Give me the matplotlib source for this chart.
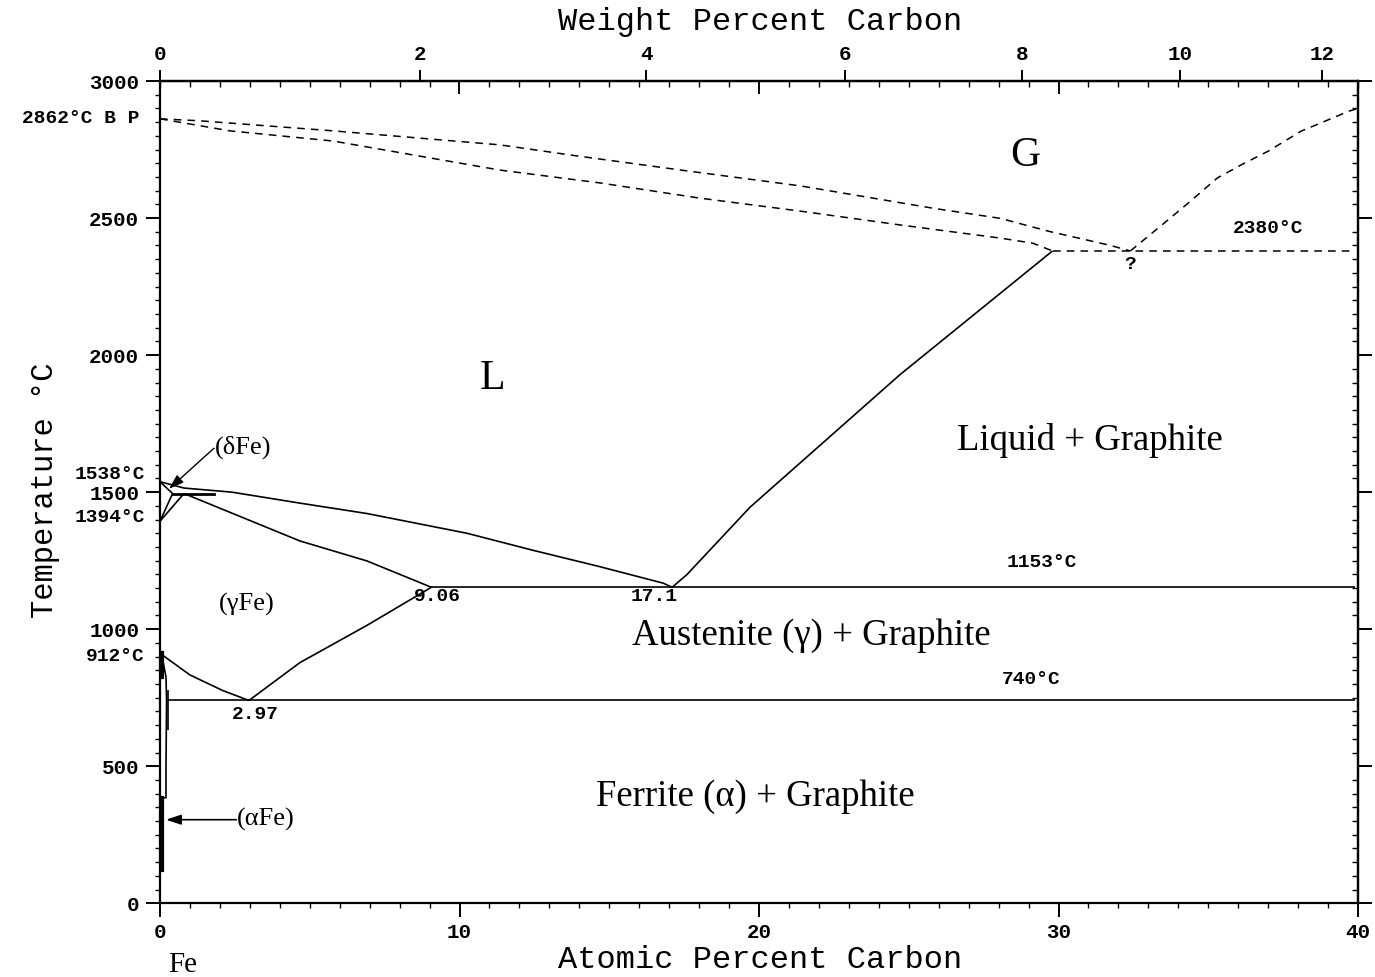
import numpy as np
import matplotlib
matplotlib.use("Agg")
import matplotlib.pyplot as plt
from matplotlib.ticker import MultipleLocator, FixedLocator, NullFormatter

# ---------------- phase boundaries (atomic % C, temperature °C) ----------------
M_C, M_FE = 12.011, 55.845

liquidus_at = [0.0, 0.8, 2.4, 4.67, 6.91, 10.25, 12.45, 14.69, 16.8, 17.1]
liquidus_T = [1538, 1515, 1500, 1460, 1422, 1350, 1288, 1228, 1168, 1153]

solidus_at = [0.8, 4.67, 6.91, 9.06]
solidus_T = [1495, 1322, 1249, 1153]

acm_at = [2.97, 4.67, 6.91, 9.06]
acm_T = [740, 878, 1014, 1153]

a3_at = [0.0, 1.0, 2.1, 2.97]
a3_T = [912, 833, 776, 740]

graphite_liq_at = [17.1, 17.6, 19.7, 24.7, 29.8]
graphite_liq_T = [1153, 1200, 1445, 1928, 2380]

# delta-iron corner
delta_liq_at, delta_liq_T = [0.0, 0.42], [1538, 1495]
delta_solvus_at, delta_solvus_T = [0.0, 0.42], [1394, 1495]
gamma_delta_at, gamma_delta_T = [0.0, 0.8], [1394, 1495]
peritectic_at, peritectic_T = [0.42, 1.8], [1495, 1495]

# alpha-iron solvus (very narrow)
alpha_at = [0.05, 0.2, 0.22, 0.2, 0.2, 0.08]
alpha_T = [912, 826, 740, 500, 385, 385]
alpha_thick_top_at, alpha_thick_top_T = [0.08, 0.08], [912, 826]
alpha_thick_low_at, alpha_thick_low_T = [0.08, 0.08], [385, 120]
alpha_bracket_at, alpha_bracket_T = [0.27, 0.27], [634, 780]

# invariant lines
eutectic_T, eutectic_at = 1153, [9.06, 39.9]
eutectoid_T, eutectoid_at = 740, [0.27, 39.9]
gas_T, gas_at = 2380, [29.8, 39.9]

# vapour-phase boundaries (dashed)
gas_upper_at = [0.0, 1.3, 5.8, 11.35, 13.9, 17.6, 21.4, 25.8, 28.05, 29.7, 31.7, 32.4]
gas_upper_T = [2862, 2855, 2818, 2767, 2727, 2672, 2617, 2536, 2499, 2451, 2401, 2380]
gas_lower_at = [0.0, 2.34, 5.78, 11.35, 14.7, 18.0, 21.4, 24.7, 28.05, 29.15, 29.8]
gas_lower_T = [2862, 2818, 2781, 2675, 2628, 2573, 2525, 2475, 2427, 2408, 2380]
gas_right_at = [32.4, 33.6, 34.4, 35.3, 36.1, 37.0, 38.1, 39.7, 40.0]
gas_right_T = [2380, 2488, 2561, 2646, 2694, 2744, 2817, 2890, 2900]

bottom_ticks = [0, 10, 20, 30, 40]
left_ticks = [0, 500, 1000, 1500, 2000, 2500, 3000]
wt_ticks = [0, 2, 4, 6, 8, 10, 12]


def at_to_wt(a):
    a = np.asarray(a, dtype=float)
    with np.errstate(divide="ignore", invalid="ignore"):
        return 100 * a * M_C / (a * M_C + (100 - a) * M_FE)


def wt_to_at(w):
    w = np.asarray(w, dtype=float)
    with np.errstate(divide="ignore", invalid="ignore"):
        return 100 * (w / M_C) / (w / M_C + (100 - w) / M_FE)


MONO = ["Liberation Mono", "DejaVu Sans Mono"]
SERIF = ["Liberation Serif", "DejaVu Serif"]

fig = plt.figure(figsize=(13.75, 9.77), dpi=100)
ax = fig.add_axes([160 / 1375, 1 - 903.3 / 977, 1198 / 1375, (903.3 - 81) / 977])
ax.set_xlim(0, 40)
ax.set_ylim(0, 3000)

for s in ax.spines.values():
    s.set_linewidth(1.6)

lw = 1.2
solid = dict(color="black", lw=lw, solid_capstyle="butt")
ax.plot(liquidus_at, liquidus_T, **solid)
ax.plot(solidus_at, solidus_T, **solid)
ax.plot(acm_at, acm_T, **solid)
ax.plot(a3_at, a3_T, **solid)
ax.plot(graphite_liq_at, graphite_liq_T, **solid)
ax.plot(delta_liq_at, delta_liq_T, **solid)
ax.plot(delta_solvus_at, delta_solvus_T, **solid)
ax.plot(gamma_delta_at, gamma_delta_T, **solid)
ax.plot(peritectic_at, peritectic_T, color="black", lw=2.0)
ax.plot(alpha_at, alpha_T, **solid)
ax.plot(alpha_thick_top_at, alpha_thick_top_T, color="black", lw=3)
ax.plot(alpha_thick_low_at, alpha_thick_low_T, color="black", lw=3)
ax.plot(alpha_bracket_at, alpha_bracket_T, **solid)
ax.plot(eutectic_at, [eutectic_T] * 2, **solid)
ax.plot(eutectoid_at, [eutectoid_T] * 2, **solid)

dash = dict(color="black", lw=1.1, linestyle=(0, (5, 4)))
ax.plot(gas_at, [gas_T] * 2, **dash)
ax.plot(gas_upper_at, gas_upper_T, **dash)
ax.plot(gas_lower_at, gas_lower_T, **dash)
ax.plot(gas_right_at, gas_right_T, **dash)

# ---------------- ticks ----------------
ax.xaxis.set_major_locator(FixedLocator(bottom_ticks))
ax.xaxis.set_minor_locator(MultipleLocator(1))
ax.yaxis.set_major_locator(FixedLocator(left_ticks))
ax.yaxis.set_minor_locator(MultipleLocator(50))
ax.tick_params(which="major", direction="out", length=10, width=1.4, labelsize=15, pad=4)
ax.tick_params(which="minor", direction="out", length=3.5, width=1.0)
ax.tick_params(axis="y", which="major", pad=5)
for lab in ax.get_xticklabels() + ax.get_yticklabels():
    lab.set_family(MONO)
    lab.set_weight("bold")

right = ax.secondary_yaxis("right")
right.yaxis.set_major_locator(FixedLocator(left_ticks))
right.yaxis.set_minor_locator(MultipleLocator(50))
right.yaxis.set_major_formatter(NullFormatter())
right.tick_params(which="major", direction="out", length=10, width=1.4)
right.tick_params(which="minor", direction="in", length=4, width=1.0)
right.spines["right"].set_linewidth(1.6)

top_at = ax.secondary_xaxis("top")
top_at.xaxis.set_major_locator(FixedLocator([10, 20, 30]))
top_at.xaxis.set_minor_locator(MultipleLocator(1))
top_at.xaxis.set_major_formatter(NullFormatter())
top_at.tick_params(which="major", direction="in", length=9, width=1.4)
top_at.tick_params(which="minor", direction="in", length=4, width=1.0)
top_at.spines["top"].set_linewidth(1.6)

top_wt = ax.secondary_xaxis("top", functions=(at_to_wt, wt_to_at))
top_wt.xaxis.set_major_locator(FixedLocator(wt_ticks))
top_wt.xaxis.set_minor_locator(FixedLocator([]))
top_wt.tick_params(which="major", direction="out", length=8, width=1.4, labelsize=15, pad=4)
for lab in top_wt.get_xticklabels():
    lab.set_family(MONO)
    lab.set_weight("bold")

# ---------------- axis titles ----------------
fig.text(760 / 1375, 1 - 22 / 977, "Weight Percent Carbon", family=MONO, fontsize=23,
         ha="center", va="center")
fig.text(760 / 1375, 1 - 960 / 977, "Atomic Percent Carbon", family=MONO, fontsize=23,
         ha="center", va="center")
fig.text(45 / 1375, 1 - 490 / 977, "Temperature °C", family=MONO, fontsize=22,
         ha="center", va="center", rotation=90)
fig.text(183 / 1375, 1 - 965 / 977, "Fe", family=SERIF, fontsize=21, ha="center", va="center")

# ---------------- point labels ----------------
small = dict(family=MONO, fontsize=14, weight="bold", clip_on=False)
ax.text(-0.67, 2862, "2862°C B P", ha="right", va="center", **small)
ax.text(-0.5, 1566, "1538°C", ha="right", va="center", **small)
ax.text(-0.5, 1408, "1394°C", ha="right", va="center", **small)
ax.text(-0.5, 901, "912°C", ha="right", va="center", **small)
ax.text(9.25, 1120, "9.06", ha="center", va="center", **small)
ax.text(16.5, 1120, "17.1", ha="center", va="center", **small)
ax.text(3.17, 689, "2.97", ha="center", va="center", **small)
ax.text(29.45, 1244, "1153°C", ha="center", va="center", **small)
ax.text(29.1, 817, "740°C", ha="center", va="center", **small)
ax.text(37.0, 2463, "2380°C", ha="center", va="center", **small)
ax.text(32.4, 2330, "?", ha="center", va="center", **small)

phase = dict(family=SERIF, fontsize=19)
ax.text(1.84, 1662, "(δFe)", ha="left", va="center", **phase)
ax.text(2.9, 1092, "(γFe)", ha="center", va="center", **phase)
ax.text(2.58, 305, "(αFe)", ha="left", va="center", **phase)

ax.text(11.1, 1915, "L", family=SERIF, fontsize=30, ha="center", va="center")
ax.text(28.9, 2727, "G", family=SERIF, fontsize=30, ha="center", va="center")

region = dict(family=SERIF, fontsize=26.5, ha="center", va="center")
ax.text(31.05, 1687, "Liquid + Graphite", **region)
ax.text(21.74, 978, "Austenite (γ) + Graphite", **region)
ax.text(19.87, 388, "Ferrite (α) + Graphite", **region)

# ---------------- leader arrows ----------------
ax.annotate("", xy=(0.3, 1512), xytext=(1.8, 1660),
            arrowprops=dict(arrowstyle="-|>,head_length=0.9,head_width=0.3",
                            color="black", lw=1.0, shrinkA=0, shrinkB=0))
ax.annotate("", xy=(0.2, 305), xytext=(2.55, 305),
            arrowprops=dict(arrowstyle="-|>,head_length=0.9,head_width=0.3",
                            color="black", lw=1.2, shrinkA=0, shrinkB=0))

fig.savefig("out.png", dpi=100, facecolor="white")
